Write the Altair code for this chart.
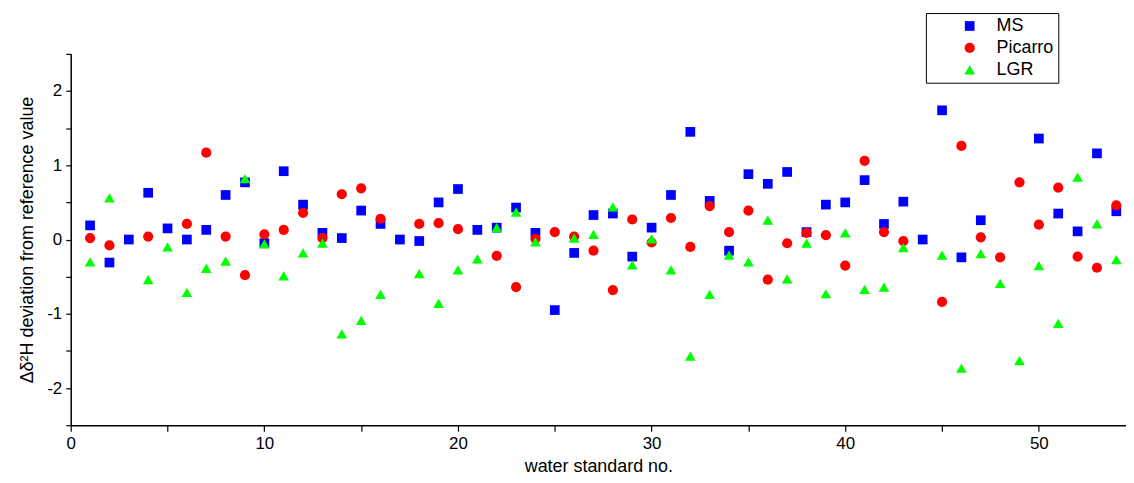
import altair as alt
import pandas as pd

x_no = list(range(1, 55))

ms = [0.19, -0.31, 0.00, 0.63, 0.15, 0.00, 0.13, 0.60, 0.77, -0.05,
      0.92, 0.47, 0.09, 0.02, 0.39, 0.21, 0.00, -0.02, 0.50, 0.68,
      0.13, 0.16, 0.43, 0.09, -0.95, -0.18, 0.33, 0.35, -0.23, 0.16,
      0.60, 1.45, 0.52, -0.15, 0.88, 0.75, 0.91, 0.10, 0.47, 0.50,
      0.80, 0.21, 0.51, 0.00, 1.74, -0.24, 0.26, None, None, 1.36,
      0.35, 0.11, 1.16, 0.38]

picarro = [0.02, -0.08, None, 0.04, None, 0.21, 1.17, 0.04, -0.48, 0.07,
           0.13, 0.36, 0.02, 0.61, 0.69, 0.28, None, 0.21, 0.22, 0.14,
           None, -0.22, -0.64, 0.01, 0.10, 0.04, -0.15, -0.68, 0.27, -0.04,
           0.29, -0.10, 0.45, 0.10, 0.39, -0.54, -0.05, 0.09, 0.06, -0.35,
           1.06, 0.10, -0.02, None, -0.84, 1.26, 0.03, -0.24, 0.77, 0.20,
           0.70, -0.23, -0.38, 0.46]

lgr = [-0.30, 0.56, None, -0.54, -0.10, -0.71, -0.39, -0.29, 0.82, -0.06,
       -0.49, -0.18, -0.05, -1.27, -1.09, -0.74, None, -0.46, -0.86, -0.41,
       -0.26, 0.16, 0.37, -0.03, None, 0.02, 0.07, 0.44, -0.34, 0.01,
       -0.41, -1.57, -0.74, -0.21, -0.30, 0.26, -0.53, -0.05, -0.73, 0.09,
       -0.67, -0.64, -0.11, None, -0.21, -1.73, -0.19, -0.59, -1.63, -0.35,
       -1.13, 0.84, 0.21, -0.27]

series = ["MS", "Picarro", "LGR"]
colors = ["#0000FF", "#FF0000", "#00FF00"]
shapes = ["square", "circle", "triangle-up"]
sizes = [95, 115, 190]

rows = []
for name, vals in zip(series, [ms, picarro, lgr]):
    for xv, yv in zip(x_no, vals):
        if yv is not None:
            rows.append({"no": xv, "dev": yv, "series": name})
df = pd.DataFrame(rows)

FONT = "Liberation Sans"

chart = alt.Chart(df).mark_point(filled=True, opacity=1).encode(
    x=alt.X("no:Q",
            scale=alt.Scale(domain=[0, 54.5], nice=False, zero=False),
            axis=alt.Axis(title="water standard no.",
                          values=list(range(0, 55, 5)),
                          labelExpr="datum.value % 10 == 0 ? datum.label : ''",
                          grid=False, tickSize=6, tickColor="black",
                          domainColor="black", tickWidth=1.2, domainWidth=1.5,
                          labelFontSize=17, titleFontSize=18,
                          labelFont=FONT, titleFont=FONT,
                          labelColor="black", titleColor="black",
                          titleFontWeight="normal", titlePadding=7,
                          labelPadding=4, labelFlush=False)),
    y=alt.Y("dev:Q",
            scale=alt.Scale(domain=[-2.5, 2.5], nice=False, zero=False),
            axis=alt.Axis(title="Δδ²H deviation from reference value",
                          values=[-2.5, -2, -1.5, -1, -0.5, 0, 0.5, 1, 1.5, 2, 2.5],
                          labelExpr="datum.value % 1 == 0 && abs(datum.value) < 2.5 ? '' + datum.value : ''",
                          grid=False, tickSize=5, tickColor="black",
                          domainColor="black", tickWidth=1.2, domainWidth=1.5,
                          labelFontSize=17, titleFontSize=18,
                          labelFont=FONT, titleFont=FONT,
                          labelColor="black", titleColor="black",
                          titleFontWeight="normal", titlePadding=10,
                          labelPadding=4)),
    color=alt.Color("series:N",
                    scale=alt.Scale(domain=series, range=colors),
                    legend=alt.Legend(title=None, orient="none",
                                      legendX=859, legendY=-41,
                                      strokeColor="black", padding=4,
                                      symbolOffset=31, labelOffset=18,
                                      labelFontSize=18, labelFont=FONT,
                                      labelColor="black",
                                      symbolSize=100, rowPadding=4,
                                      fillColor="white")),
    shape=alt.Shape("series:N",
                    scale=alt.Scale(domain=series, range=shapes),
                    legend=None),
    size=alt.Size("series:N",
                  scale=alt.Scale(domain=series, range=sizes),
                  legend=None),
    order=alt.Order("order_key:Q"),
).transform_calculate(
    order_key="datum.series == 'MS' ? 0 : (datum.series == 'Picarro' ? 1 : 2)"
).properties(
    width=1060, height=373,
    padding={"left": 63, "top": 45, "right": 0, "bottom": 60},
    autosize=alt.AutoSizeParams(type="none"),
).configure(
    font=FONT
).configure_view(
    stroke=None
)

chart.save("out.html", embed_options={"renderer": "svg", "actions": False})
